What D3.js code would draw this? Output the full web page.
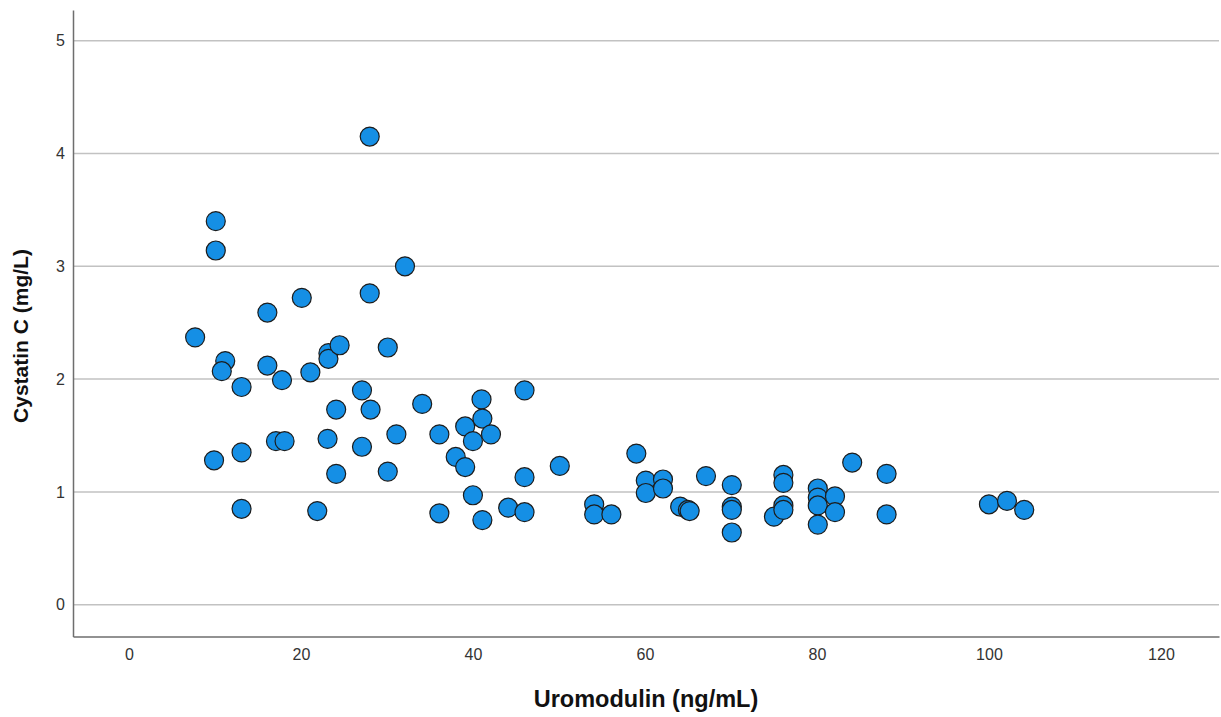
<!DOCTYPE html>
<html>
<head>
  <title>Cystatin C vs Uromodulin</title>
  <script src="https://d3js.org/d3.v7.min.js"></script>
  <style>
    body { margin: 0; background: #fff; }
    svg { display: block; }
  </style>
</head>
<body>
  <div id="scatter-plot"></div>

  <script>
    // values
    var uromodulin = [
      7.7, 10.1, 10.1, 11.2, 10.8, 9.9, 13.1, 13.1, 13.1, 16.1,
      16.1, 17.8, 17.1, 18.1, 20.1, 21.1, 21.9, 23.2, 23.2, 24.5,
      24.1, 23.1, 24.1, 28.0, 28.0, 27.1, 28.1, 27.1, 32.1, 30.1,
      31.1, 30.1, 34.1, 36.1, 36.1, 38.0, 39.1, 39.1, 40.0, 40.0,
      41.0, 41.1, 42.1, 41.1, 44.1, 46.0, 46.0, 46.0, 50.1, 54.1,
      54.1, 56.1, 59.0, 60.1, 60.1, 62.1, 62.1, 64.1, 65.0, 65.2,
      67.1, 70.1, 70.1, 70.1, 70.1, 75.0, 76.1, 76.1, 76.1, 76.1,
      80.1, 80.1, 80.1, 80.1, 82.1, 82.1, 84.1, 88.1, 88.1, 100.0,
      102.1, 104.1
    ];
    var cystatinC = [
      2.37, 3.40, 3.14, 2.16, 2.07, 1.28, 1.93, 1.35, 0.85, 2.59,
      2.12, 1.99, 1.45, 1.45, 2.72, 2.06, 0.83, 2.23, 2.18, 2.30,
      1.73, 1.47, 1.16, 4.15, 2.76, 1.90, 1.73, 1.40, 3.00, 2.28,
      1.51, 1.18, 1.78, 1.51, 0.81, 1.31, 1.58, 1.22, 1.45, 0.97,
      1.82, 1.65, 1.51, 0.75, 0.86, 1.90, 1.13, 0.82, 1.23, 0.89,
      0.80, 0.80, 1.34, 1.10, 0.99, 1.11, 1.03, 0.87, 0.84, 0.83,
      1.14, 1.06, 0.87, 0.84, 0.64, 0.78, 1.15, 1.08, 0.88, 0.84,
      1.03, 0.95, 0.88, 0.71, 0.96, 0.82, 1.26, 1.16, 0.80, 0.89,
      0.92, 0.84
    ];
    var xTicks = [0, 20, 40, 60, 80, 100, 120];
    var yTicks = [0, 1, 2, 3, 4, 5];

    var width = 1221, height = 717;
    var margin = { top: 10, right: 2, bottom: 80.5, left: 73 };

    var svg = d3.select('#scatter-plot').append('svg')
      .attr('width', width)
      .attr('height', height);

    var x = d3.scaleLinear()
      .domain([-6.5, 126.75])
      .range([margin.left, width - margin.right]);

    var y = d3.scaleLinear()
      .domain([-0.282, 5.272])
      .range([height - margin.bottom, margin.top]);

    // horizontal grid lines
    svg.append('g')
      .selectAll('line')
      .data(yTicks)
      .enter()
      .append('line')
      .attr('x1', x.range()[0])
      .attr('x2', x.range()[1])
      .attr('y1', function(d) { return y(d); })
      .attr('y2', function(d) { return y(d); })
      .attr('stroke', '#c2c2c2')
      .attr('stroke-width', 1.5);

    var xAxis = svg.append('g')
      .attr('transform', 'translate(0,' + (height - margin.bottom) + ')')
      .call(d3.axisBottom(x).tickValues(xTicks).tickFormat(d3.format('d')).tickSize(0).tickPadding(12));

    var yAxis = svg.append('g')
      .attr('transform', 'translate(' + margin.left + ',0)')
      .call(d3.axisLeft(y).tickValues(yTicks).tickFormat(d3.format('d')).tickSize(0).tickPadding(8));

    [xAxis, yAxis].forEach(function(a) {
      a.select('.domain').attr('stroke', '#6e6e6e').attr('stroke-width', 1.5);
      a.selectAll('text')
        .attr('fill', '#333')
        .style('font-family', 'Liberation Sans, Arial, sans-serif')
        .style('font-size', '16px');
    });

    // points
    svg.append('g')
      .selectAll('circle')
      .data(uromodulin.map(function(u, i) { return { u: u, c: cystatinC[i] }; }))
      .enter()
      .append('circle')
      .attr('cx', function(d) { return x(d.u); })
      .attr('cy', function(d) { return y(d.c); })
      .attr('r', 9.5)
      .attr('fill', '#158fe5')
      .attr('stroke', '#1c1c1c')
      .attr('stroke-width', 1.2);

    // axis titles
    svg.append('text')
      .attr('x', (x.range()[0] + x.range()[1]) / 2)
      .attr('y', 707)
      .attr('text-anchor', 'middle')
      .style('font-family', 'Liberation Sans, Arial, sans-serif')
      .style('font-weight', 'bold')
      .style('font-size', '23.5px')
      .attr('fill', '#111')
      .text('Uromodulin (ng/mL)');

    svg.append('text')
      .attr('transform', 'translate(28,336) rotate(-90)')
      .attr('text-anchor', 'middle')
      .style('font-family', 'Liberation Sans, Arial, sans-serif')
      .style('font-weight', 'bold')
      .style('font-size', '21px')
      .attr('fill', '#111')
      .text('Cystatin C (mg/L)');
  </script>
</body>
</html>
